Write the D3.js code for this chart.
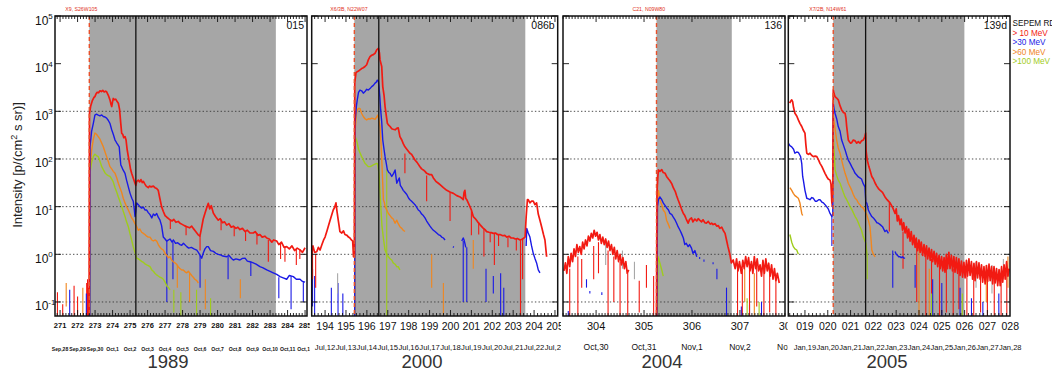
<!DOCTYPE html>
<html>
<head>
<meta charset="utf-8">
<script src="https://cdn.jsdelivr.net/npm/d3@7"></script>
<style>
  body { margin: 0; background: #fff; }
  svg { display: block; }
</style>
</head>
<body>
<svg id="chart" width="1052" height="370"></svg>
<script>
// ---------------------------------------------------------------
// SEPEM reference dataset: integral proton intensities for four
// ground-level events. Values are [day of year, intensity].
// null intensity marks a gap in the record.
// ---------------------------------------------------------------

const channels = ["> 10 MeV", ">30 MeV", ">60 MeV", ">100 MeV"];

// ---- 1989 (event 015) ----
const span1989 = [270.71, 285.11];
const doy1989 = [271, 272, 273, 274, 275, 276, 277, 278, 279, 280, 281, 282, 283, 284, 285];
const dates1989 = ["Sep,28", "Sep,29", "Sep,30", "Oct,1", "Oct,2", "Oct,3", "Oct,4", "Oct,5", "Oct,6", "Oct,7", "Oct,8", "Oct,9", "Oct,10", "Oct,11", "Oct,12"];
const marks1989 = { onset: 272.67, peak: 275.33, end: 283.33 };

const red1989 = [
  [272.66, 0.06], [272.68, 900], [272.75, 1300], [272.85, 1700], [272.93, 1950], [272.99, 2040], [273.05, 2300],
  [273.12, 2500], [273.2, 2450], [273.28, 2700], [273.36, 2600], [273.44, 2750], [273.52, 2550], [273.6, 2650],
  [273.66, 2570], [273.75, 2200], [273.85, 1740], [273.9, 1450], [273.95, 1260], [274.0, 1600], [274.04, 1860],
  [274.1, 1750], [274.18, 1800], [274.26, 1600], [274.33, 1480], [274.4, 1100], [274.46, 600], [274.52, 347],
  [274.58, 330], [274.64, 280], [274.71, 296], [274.77, 250], [274.83, 160], [274.9, 112], [274.96, 85],
  [275.03, 60], [275.09, 50], [275.18, 40], [275.28, 31], [275.33, 28], [275.38, 34], [275.47, 36], [275.55, 33],
  [275.62, 37], [275.7, 32], [275.76, 34], [275.84, 30], [275.92, 27], [276.04, 25], [276.1, 27], [276.2, 26],
  [276.33, 27], [276.42, 25], [276.52, 24], [276.61, 22], [276.7, 15], [276.8, 10], [276.9, 7.9], [277.0, 6.5],
  [277.1, 6.0], [277.2, 5.6], [277.28, 5.3], [277.4, 5.0], [277.5, 5.4], [277.62, 4.7], [277.75, 4.9],
  [277.85, 4.5], [277.95, 4.3], [278.1, 4.0], [278.25, 3.8], [278.4, 3.6], [278.52, 3.9], [278.61, 3.5],
  [278.75, 3.0], [278.88, 2.6], [278.99, 2.4], [279.08, 3.5], [279.18, 5.5], [279.28, 7.3], [279.38, 9.5],
  [279.47, 11.7], [279.55, 9], [279.64, 10.5], [279.76, 7.3], [279.88, 6.2], [280.04, 5.2], [280.15, 5.6],
  [280.28, 4.6], [280.4, 4.8], [280.52, 4.1], [280.65, 4.4], [280.78, 3.7], [280.9, 3.9], [281.05, 3.5],
  [281.16, 3.7], [281.28, 3.3], [281.42, 3.5], [281.57, 3.0], [281.7, 3.2], [281.85, 2.8], [282.04, 2.8],
  [282.15, 3.0], [282.3, 2.5], [282.42, 2.6], [282.55, 2.3], [282.7, 2.4], [282.81, 2.2], [282.95, 2.1],
  [283.1, 1.8], [283.2, 2.0], [283.38, 1.9], [283.5, 1.6], [283.65, 1.8], [283.8, 1.4], [283.95, 1.45],
  [284.1, 1.3], [284.25, 1.5], [284.4, 1.2], [284.55, 1.35], [284.71, 1.24], [284.85, 1.1], [285.0, 1.37]
];
const blue1989 = [
  [272.7, 0.05], [272.71, 180], [272.8, 380], [272.9, 560], [272.99, 830], [273.08, 870], [273.18, 830],
  [273.28, 800], [273.38, 840], [273.47, 780], [273.57, 760], [273.66, 720], [273.75, 650], [273.85, 560],
  [273.95, 410], [274.04, 330], [274.14, 250], [274.2, 230], [274.24, 215], [274.3, 200], [274.38, 180],
  [274.42, 120], [274.47, 75], [274.52, 69], [274.6, 59], [274.71, 50], [274.8, 36], [274.9, 26], [275.0, 19],
  [275.1, 15], [275.18, 13], [275.24, 9], [275.28, 6.2], [275.33, 8], [275.38, 12], [275.47, 11], [275.56, 10],
  [275.66, 9.3], [275.76, 9.8], [275.85, 8.5], [275.95, 8.5], [276.04, 7.5], [276.14, 6.8], [276.24, 5.8],
  [276.33, 7.0], [276.42, 6.5], [276.52, 7.2], [276.61, 6.0], [276.71, 5.2], [276.8, 4.0], [276.9, 2.3],
  [277.0, 2.1], [277.09, 1.9], [277.2, 2.0], [277.28, 2.1], [277.4, 1.8], [277.47, 2.0], [277.6, 1.7],
  [277.72, 1.75], [277.85, 1.6], [277.95, 1.55], [278.05, 1.7], [278.24, 1.45], [278.35, 1.35], [278.5, 1.4],
  [278.65, 1.3], [278.81, 1.23], [278.9, 1.1], [279.0, 0.95], [279.09, 0.83], [279.2, 1.1], [279.28, 1.3],
  [279.38, 1.45], [279.47, 1.45], [279.6, 1.2], [279.76, 1.15], [279.9, 1.05], [280.04, 1.0], [280.14, 0.98],
  [280.3, 0.92], [280.52, 0.89], [280.65, 0.95], [280.8, 0.82], [280.9, 0.76], [281.05, 0.8], [281.28, 0.76],
  [281.42, 0.82], [281.57, 0.83], [281.7, 0.72], [281.85, 0.7], [282.04, 0.66], [282.2, 0.62], [282.42, 0.55],
  [282.6, 0.52], [282.81, 0.47], [283.0, 0.44], [283.18, 0.41], [283.38, 0.38], [283.57, 0.34], [283.75, 0.32],
  [283.95, 0.30], [284.1, 0.36], [284.33, 0.34], [284.5, 0.30], [284.71, 0.30], [284.85, 0.27], [285.0, 0.26]
];
const orange1989 = [
  [272.7, 0.05], [272.72, 69], [272.8, 150], [272.9, 260], [272.99, 350], [273.08, 330], [273.18, 295],
  [273.28, 260], [273.38, 215], [273.47, 180], [273.57, 140], [273.66, 112], [273.75, 90], [273.85, 69],
  [273.95, 62], [274.04, 55], [274.14, 50], [274.24, 40], [274.33, 31], [274.42, 25], [274.52, 20], [274.61, 15],
  [274.71, 12], [274.8, 10], [274.9, 8.5], [275.0, 7.0], [275.09, 5.8], [275.18, 5.2], [275.28, 4.4],
  [275.38, 3.8], [275.47, 3.2], [275.56, 3.4], [275.66, 2.9], [275.76, 2.75], [275.85, 2.6], [275.95, 2.4],
  [276.04, 2.3], [276.14, 2.3], [276.24, 2.0], [276.33, 1.9], [276.42, 2.0], [276.52, 1.9], [276.61, 1.6],
  [276.71, 1.4], [276.8, 1.3], [276.9, 1.23], [277.0, 1.05], [277.09, 0.95], [277.2, 0.85], [277.28, 0.89],
  [277.38, 0.75], [277.47, 0.70], [277.57, 0.66], [277.66, 0.62], [277.75, 0.55], [277.85, 0.50],
  [277.95, 0.47], [278.04, 0.47], [278.14, 0.43], [278.24, 0.41], [278.33, 0.44], [278.42, 0.40],
  [278.52, 0.36], [278.61, 0.33], [278.7, 0.30], [278.81, 0.28], [278.9, 0.25]
];
const green1989 = [
  [272.7, 0.05], [272.71, 51], [272.8, 85], [272.9, 112], [272.99, 126], [273.08, 118], [273.18, 112],
  [273.28, 90], [273.38, 69], [273.47, 60], [273.57, 51], [273.66, 47], [273.75, 45], [273.85, 43],
  [273.95, 38], [274.04, 33], [274.14, 25], [274.24, 20], [274.33, 16], [274.42, 13], [274.52, 10], [274.61, 8],
  [274.71, 6.2], [274.8, 4.8], [274.9, 3.8], [274.99, 2.75], [275.09, 2.0], [275.18, 1.45], [275.28, 1.1],
  [275.38, 0.83], [275.47, 0.80], [275.56, 0.76], [275.66, 0.71], [275.76, 0.68], [275.85, 0.63],
  [275.95, 0.60], [276.04, 0.58], [276.14, 0.55], [276.24, 0.47], [276.33, 0.44], [276.42, 0.40],
  [276.52, 0.37], [276.61, 0.35], [276.71, 0.33], [276.8, 0.32], [276.9, 0.30], [277.0, 0.26], [277.09, 0.22],
  [277.2, 0.20], [277.28, 0.18]
];
// isolated readings: [day, high, low, channel]
const drops1989 = [
  [270.85, 0.16, 0.05, 0], [271.15, 0.09, 0.05, 0], [271.8, 0.22, 0.05, 0], [272.0, 0.13, 0.05, 0],
  [272.52, 0.25, 0.05, 0], [272.57, 0.3, 0.05, 0], [272.62, 0.2, 0.05, 0],
  [271.55, 0.18, 0.05, 1], [272.5, 0.15, 0.05, 1], [271.35, 0.25, 0.08, 2], [272.3, 0.2, 0.05, 2],
  [277.1, 1.9, 0.1, 1], [277.45, 1.8, 0.3, 1], [279.0, 0.95, 0.2, 1], [280.6, 0.9, 0.3, 1], [281.9, 0.7, 0.35, 1],
  [283.5, 0.33, 0.12, 1], [284.2, 0.35, 0.07, 1], [284.9, 0.27, 0.1, 1],
  [277.7, 0.6, 0.2, 2], [278.4, 0.4, 0.1, 2], [279.3, 0.3, 0.07, 2], [281.3, 0.3, 0.12, 2],
  [277.5, 0.18, 0.06, 3], [277.9, 0.16, 0.05, 3], [278.8, 0.18, 0.05, 3], [279.6, 0.12, 0.05, 3],
  [282.9, 2.0, 0.7, 0], [283.6, 1.7, 0.8, 0], [284.5, 1.3, 0.6, 0], [279.0, 2.4, 1.2, 0],
  [277.3, 5.2, 3.4, 0], [278.2, 3.9, 2.5, 0], [280.2, 5.4, 3.2, 0], [280.95, 3.8, 2.4, 0], [281.6, 3.0, 1.9, 0],
  [282.25, 2.8, 1.6, 0], [283.85, 1.4, 0.7, 0], [284.7, 1.3, 0.8, 0]
];

// ---- 2000 (event 086b) ----
const span2000 = [193.36, 205.13];
const doy2000 = [194, 195, 196, 197, 198, 199, 200, 201, 202, 203, 204, 205];
const dates2000 = ["Jul,12", "Jul,13", "Jul,14", "Jul,15", "Jul,16", "Jul,17", "Jul,18", "Jul,19", "Jul,20", "Jul,21", "Jul,22", "Jul,23"];
const marks2000 = { onset: 195.40, peak: 196.57, end: 203.58 };

const red2000 = [
  [193.36, 1.0], [193.42, 1.5], [193.5, 1.1], [193.6, 1.13], [193.68, 1.4], [193.76, 1.23], [193.85, 1.6],
  [193.93, 2.0], [194.0, 2.3], [194.1, 3.2], [194.18, 4.2], [194.24, 5.2], [194.32, 6.8], [194.39, 8.5],
  [194.45, 9.5], [194.52, 12], [194.57, 8], [194.63, 5.2], [194.67, 4.0], [194.71, 3.0], [194.8, 2.8],
  [194.88, 3.1], [194.95, 2.6], [195.05, 2.5], [195.12, 2.3], [195.19, 2.2], [195.26, 2.0], [195.32, 1.9],
  [195.36, 0.89], [195.4, 0.9], [195.42, 4000], [195.48, 6500], [195.54, 6800], [195.6, 7000], [195.67, 7400],
  [195.75, 7900], [195.83, 8200], [195.91, 8700], [195.99, 9500], [196.07, 12000], [196.15, 14000],
  [196.23, 15000], [196.31, 15500], [196.39, 16500], [196.47, 19500], [196.55, 21000], [196.6, 17000],
  [196.63, 12000], [196.71, 8700], [196.76, 3300], [196.82, 2200], [196.87, 1260], [196.93, 800],
  [196.98, 560], [197.03, 520], [197.11, 480], [197.19, 430], [197.26, 420], [197.35, 410], [197.43, 440],
  [197.5, 450], [197.58, 295], [197.67, 250], [197.74, 210], [197.82, 180], [197.91, 160], [198.06, 132],
  [198.14, 125], [198.3, 95], [198.4, 85], [198.54, 69], [198.62, 62], [198.7, 59], [198.78, 55], [198.86, 50],
  [199.0, 47], [199.1, 47], [199.18, 40], [199.3, 34], [199.42, 31], [199.5, 29], [199.66, 25], [199.82, 22],
  [200.0, 20], [200.14, 19], [200.3, 17], [200.46, 16], [200.54, 15], [200.61, 14], [200.65, 20], [200.69, 22],
  [200.73, 15], [200.78, 14], [200.85, 12], [200.93, 10], [201.0, 8.5], [201.09, 6.2], [201.2, 5.5],
  [201.3, 4.8], [201.41, 4.2], [201.55, 3.6], [201.65, 3.3], [201.73, 3.0], [201.85, 2.9], [201.95, 2.85],
  [202.05, 2.75], [202.15, 2.8], [202.25, 2.6], [202.37, 2.6], [202.5, 2.45], [202.6, 2.5], [202.69, 2.3],
  [202.8, 2.4], [202.9, 2.2], [203.01, 2.2], [203.1, 2.1], [203.2, 2.15], [203.33, 2.0], [203.45, 2.1],
  [203.57, 2.3], [203.62, 6], [203.68, 14], [203.72, 14], [203.8, 12], [203.88, 13], [203.96, 13],
  [204.04, 11], [204.12, 12], [204.2, 7], [204.28, 5.2], [204.36, 3.8], [204.45, 2.6], [204.52, 2.0],
  [204.6, 0.89]
];
const blue2000 = [
  [195.42, 0.05], [195.43, 560], [195.5, 1300], [195.54, 1740], [195.6, 2500], [195.67, 2800], [195.75, 2700],
  [195.83, 2400], [195.91, 2600], [195.99, 2900], [196.07, 2800], [196.15, 3000], [196.23, 3300],
  [196.31, 3500], [196.39, 3900], [196.45, 4100], [196.5, 4500], [196.55, 4300], [196.58, 3300],
  [196.62, 2000], [196.66, 1070], [196.71, 600], [196.76, 250], [196.82, 160], [196.87, 112], [196.93, 80],
  [196.98, 59], [197.05, 52], [197.11, 50], [197.19, 43], [197.26, 48], [197.35, 59], [197.43, 31],
  [197.5, 36], [197.55, 40], [197.6, 28], [197.67, 25], [197.74, 22], [197.82, 20], [197.91, 18], [198.0, 15],
  [198.06, 14], [198.14, 13], [198.22, 12], [198.3, 11], [198.38, 9.8], [198.46, 8.5], [198.54, 8],
  [198.62, 7], [198.7, 6.5], [198.78, 5.8], [198.86, 5.0], [198.94, 4.4], [199.02, 3.9], [199.1, 3.5],
  [199.18, 3.2], [199.26, 3.0], [199.34, 2.8], [199.42, 2.6], [199.5, 2.5], [199.58, 2.3], [199.66, 2.2],
  [199.74, 2.0], [199.8, null], [200.12, 1.45], [200.16, 1.4], [200.2, null],
  [200.54, 1.9], [200.61, 2.2], [200.65, 2.0], [200.69, 1.7], [200.73, 1.4], [200.76, null],
  [203.62, 1.5], [203.65, 3.5], [203.72, 2.8], [203.8, 2.3], [203.88, 1.5], [203.96, 1.05], [204.05, 0.8],
  [204.12, 0.66], [204.2, 0.47], [204.28, 0.41]
];
const orange2000 = [
  [195.42, 0.05], [195.43, 350], [195.5, 900], [195.54, 1070], [195.6, 1150], [195.67, 1150], [195.75, 900],
  [195.83, 780], [195.91, 700], [195.99, 660], [196.07, 700], [196.15, 690], [196.23, 720], [196.31, 700],
  [196.39, 680], [196.47, 760], [196.52, 830], [196.58, 650], [196.63, 480], [196.68, 200], [196.72, 80],
  [196.76, 30], [196.79, 14], [196.84, 12], [196.87, 10], [196.95, 8.5], [197.03, 7.2], [197.11, 6.5],
  [197.19, 5.8], [197.26, 5.5], [197.35, 4.5], [197.43, 5.2], [197.5, 4.4], [197.58, 3.8], [197.67, 3.5],
  [197.74, 3.2], [197.82, 3.0]
];
const green2000 = [
  [195.42, 0.05], [195.43, 300], [195.5, 250], [195.54, 215], [195.6, 160], [195.67, 135], [195.75, 112],
  [195.83, 95], [195.91, 81], [195.99, 75], [196.07, 69], [196.15, 69], [196.23, 72], [196.31, 75],
  [196.39, 78], [196.47, 81], [196.52, 78], [196.58, 50], [196.63, 20], [196.68, 8], [196.72, 4], [196.8, 2.0],
  [196.87, 1.23], [196.95, 1.0], [197.03, 0.89], [197.11, 0.8], [197.19, 0.76], [197.26, 0.66],
  [197.35, 0.62], [197.43, 0.55], [197.5, 0.55], [197.58, 0.47]
];
const drops2000 = [
  [193.4, 0.5, 0.08, 1], [193.5, 0.35, 0.05, 1], [194.3, 0.2, 0.05, 1], [194.62, 0.25, 0.05, 1],
  [194.85, 0.15, 0.05, 1], [193.4, 1.2, 0.3, 0], [193.55, 1.0, 0.2, 0], [194.6, 0.4, 0.15, 4],
  [200.61, 1.9, 0.1, 1], [200.78, 1.4, 0.1, 1], [201.7, 0.5, 0.1, 1], [202.05, 0.35, 0.15, 1],
  [202.4, 0.4, 0.05, 1], [202.55, 0.2, 0.05, 1],
  [197.82, 130, 50, 0], [198.86, 45, 13, 0], [199.98, 20, 5, 0], [201.0, 8, 2.5, 0], [201.6, 3.5, 0.9, 0],
  [202.1, 2.7, 0.6, 0], [203.35, 2.0, 0.05, 0], [203.45, 2.2, 0.3, 0],
  [201.35, 4.6, 2.6, 0], [201.9, 2.9, 1.8, 0], [202.3, 2.6, 1.5, 0], [202.75, 2.4, 1.4, 0], [203.15, 2.1, 1.2, 0],
  [199.1, 1.0, 0.2, 2], [199.66, 0.25, 0.05, 2], [201.09, 2.0, 0.5, 2],
  [196.95, 60, 0.05, 3]
];

// ---- 2004 (event 136) ----
const span2004 = [303.31, 307.94];
const doy2004 = [304, 305, 306, 307, 308];
const dates2004 = ["Oct,30", "Oct,31", "Nov,1", "Nov,2", "Nov,3"];
const marks2004 = { onset: 305.26, peak: null, end: 306.83 };

const red2004 = [
  [303.33, 0.45], [303.36, 0.66], [303.39, 0.4], [303.42, 0.9], [303.45, 0.55], [303.48, 1.05], [303.51, 0.7],
  [303.54, 1.3], [303.57, 0.9], [303.6, 1.6], [303.63, 1.1], [303.66, 1.45], [303.69, 1.0], [303.72, 1.8],
  [303.75, 1.3], [303.78, 2.0], [303.81, 1.5], [303.84, 2.4], [303.87, 1.9], [303.9, 2.75], [303.93, 2.2],
  [303.96, 3.2], [303.99, 2.4], [304.02, 2.9], [304.05, 2.0], [304.08, 2.6], [304.11, 1.7], [304.14, 2.3],
  [304.17, 1.6], [304.2, 2.1], [304.23, 1.4], [304.26, 1.9], [304.29, 1.2], [304.32, 1.6], [304.35, 1.0],
  [304.38, 1.4], [304.41, 0.8], [304.44, 1.2], [304.47, 0.7], [304.5, 1.0], [304.53, 0.6], [304.56, 0.85],
  [304.59, 0.5], [304.62, 0.7], [304.65, 0.4], [304.68, 0.47], [304.7, null],
  [305.26, 0.05], [305.27, 20], [305.29, 45], [305.3, 59], [305.33, 55], [305.37, 60], [305.4, 52],
  [305.44, 50], [305.47, 43], [305.51, 38], [305.54, 35], [305.58, 30], [305.61, 25], [305.65, 21],
  [305.68, 17], [305.71, 14], [305.75, 11], [305.78, 9], [305.82, 7.2], [305.85, 6.5], [305.88, 5.5],
  [305.92, 4.5], [305.95, 5.4], [305.99, 5.8], [306.02, 4.8], [306.06, 5.5], [306.1, 5.0], [306.13, 5.6],
  [306.16, 5.2], [306.2, 4.8], [306.23, 5.3], [306.27, 4.6], [306.3, 4.5], [306.34, 4.9], [306.38, 4.3],
  [306.41, 4.5], [306.44, 4.2], [306.48, 4.4], [306.52, 3.9], [306.55, 4.0], [306.58, 3.5], [306.62, 3.7],
  [306.65, 3.2], [306.69, 2.75], [306.72, 2.0], [306.75, 1.45], [306.79, 1.0], [306.82, 0.66], [306.86, 0.76],
  [306.9, 0.5], [306.93, 0.8], [306.96, 0.45], [306.99, 0.7], [307.03, 0.4], [307.06, 0.75], [307.09, 0.5],
  [307.12, 0.9], [307.15, 0.55], [307.18, 0.85], [307.21, 0.45], [307.24, 0.7], [307.27, 0.4], [307.3, 0.9],
  [307.33, 0.5], [307.36, 0.8], [307.39, 0.45], [307.42, 0.6], [307.45, 0.35], [307.48, 0.75], [307.51, 0.4],
  [307.54, 0.8], [307.57, 0.45], [307.6, 0.65], [307.63, 0.35], [307.66, 0.6], [307.69, 0.3], [307.72, 0.5],
  [307.75, 0.28], [307.78, 0.4], [307.82, 0.25]
];
const blue2004 = [
  [305.27, 0.05], [305.28, 10], [305.3, 14], [305.33, 16], [305.37, 14], [305.4, 12], [305.44, 10.5],
  [305.47, 9.5], [305.51, 8.5], [305.54, 7.2], [305.58, 6.8], [305.61, 6.0], [305.65, 5.2], [305.68, 4.5],
  [305.71, 3.8], [305.75, 3.2], [305.78, 2.75], [305.82, 2.2], [305.85, 1.6], [305.88, 1.7], [305.92, 1.45],
  [305.95, 1.6], [305.99, 1.35], [306.02, 1.05], [306.06, 1.2], [306.1, 0.89]
];
const orange2004 = [
  [305.27, 0.05], [305.28, 15], [305.3, 22], [305.33, 14], [305.37, 11], [305.4, 8.5], [305.44, 7.5],
  [305.47, 5.2], [305.51, 4.2], [305.54, 3.5]
];
const green2004 = [
  [305.28, 0.05], [305.29, 0.9], [305.3, 0.83], [305.33, 0.66], [305.37, 0.47], [305.4, 0.35]
];
const drops2004 = [
  [303.45, 0.5, 0.05, 0], [303.62, 0.9, 0.05, 0], [303.7, 0.8, 0.2, 0], [303.95, 1.5, 0.3, 0],
  [304.05, 1.8, 0.4, 0], [304.25, 1.2, 0.05, 0], [304.37, 0.9, 0.1, 0], [304.5, 0.7, 0.05, 0],
  [304.66, 0.4, 0.05, 0], [304.9, 0.28, 0.06, 0], [305.05, 0.6, 0.2, 0], [305.2, 0.35, 0.05, 0],
  [304.2, 1.8, 0.6, 4], [304.55, 1.2, 0.5, 4], [304.8, 0.7, 0.3, 4],
  [303.8, 0.3, 0.2, 1], [303.87, 0.17, 0.15, 1], [304.12, 0.16, 0.14, 1], [303.42, 0.065, 0.05, 1],
  [306.16, 0.88, 0.8, 1], [306.25, 0.78, 0.7, 1], [306.44, 0.68, 0.62, 1], [306.52, 0.5, 0.3, 1],
  [306.72, 0.2, 0.05, 1], [307.03, 0.08, 0.05, 1], [307.2, 0.09, 0.05, 1], [307.45, 0.1, 0.05, 1],
  [306.95, 0.6, 0.05, 0], [307.05, 0.5, 0.05, 0], [307.2, 0.6, 0.05, 0], [307.35, 0.7, 0.08, 0],
  [307.5, 0.5, 0.05, 0], [307.62, 0.5, 0.06, 0], [307.75, 0.35, 0.05, 0],
  [307.1, 0.5, 0.1, 2], [307.3, 0.4, 0.05, 2], [307.15, 0.12, 0.05, 3], [307.4, 0.1, 0.05, 3]
];

// ---- 2005 (event 139d) ----
const span2005 = [18.27, 27.99];
const doy2005 = [19, 20, 21, 22, 23, 24, 25, 26, 27, 28];
const dates2005 = ["Jan,19", "Jan,20", "Jan,21", "Jan,22", "Jan,23", "Jan,24", "Jan,25", "Jan,26", "Jan,27", "Jan,28"];
const marks2005 = { onset: 20.24, peak: 21.66, end: 25.99 };

const red2005 = [
  [18.33, 1480], [18.38, 1650], [18.42, 1740], [18.46, 1600], [18.5, 1200], [18.56, 910], [18.64, 800],
  [18.71, 660], [18.78, 560], [18.86, 480], [18.93, 400], [19.0, 350], [19.04, 200], [19.08, 132],
  [19.15, 125], [19.22, 132], [19.3, 118], [19.37, 112], [19.45, 115], [19.52, 112], [19.6, 95], [19.66, 81],
  [19.74, 70], [19.81, 59], [19.88, 50], [19.95, 43], [20.02, 38], [20.1, 36], [20.14, 30], [20.18, 12],
  [20.2, 20], [20.22, 26], [20.24, 2800], [20.28, 2300], [20.32, 2040], [20.39, 1900], [20.46, 1740],
  [20.54, 1300], [20.61, 1070], [20.68, 950], [20.76, 910], [20.8, 700], [20.83, 480], [20.9, 250],
  [20.95, 230], [21.0, 215], [21.05, 220], [21.12, 250], [21.2, 240], [21.27, 215], [21.34, 230],
  [21.41, 215], [21.48, 240], [21.56, 250], [21.63, 300], [21.66, 350], [21.68, 150], [21.73, 95],
  [21.8, 70], [21.85, 59], [21.93, 43], [22.0, 38], [22.08, 31], [22.15, 27], [22.22, 24], [22.3, 22],
  [22.4, 20], [22.51, 16], [22.6, 14], [22.73, 12], [22.85, 9.5], [22.95, 7.2], [23.0, 9.0], [23.05, 5.0],
  [23.1, 6.5], [23.17, 4.2], [23.22, 5.5], [23.28, 3.2], [23.33, 4.6], [23.39, 2.8], [23.45, 3.8],
  [23.5, 2.2], [23.55, 3.4], [23.61, 1.9], [23.66, 3.0], [23.72, 1.6], [23.78, 2.5], [23.83, 1.4],
  [23.88, 2.2], [23.94, 1.2], [24.0, 2.0], [24.05, 1.1], [24.1, 1.8], [24.16, 0.95], [24.22, 1.6],
  [24.27, 0.9], [24.33, 1.5], [24.38, 0.8], [24.44, 1.35], [24.49, 0.75], [24.55, 1.25], [24.6, 0.7],
  [24.66, 1.15], [24.71, 0.62], [24.77, 1.05], [24.82, 0.55], [24.88, 0.95], [24.93, 0.5], [24.99, 0.9],
  [25.04, 0.45], [25.1, 0.85], [25.14, 0.42], [25.2, 1.0], [25.25, 0.5], [25.31, 1.1], [25.36, 0.5],
  [25.42, 0.95], [25.47, 0.45], [25.53, 0.9], [25.58, 0.42], [25.64, 0.85], [25.69, 0.4], [25.75, 0.8],
  [25.8, 0.36], [25.86, 0.72], [25.91, 0.33], [25.97, 0.68], [26.02, 0.32], [26.08, 0.75], [26.13, 0.35],
  [26.19, 0.8], [26.24, 0.36], [26.3, 0.7], [26.35, 0.3], [26.41, 0.65], [26.46, 0.28], [26.52, 0.7],
  [26.57, 0.32], [26.63, 0.66], [26.68, 0.3], [26.74, 0.6], [26.79, 0.26], [26.85, 0.55], [26.9, 0.24],
  [26.96, 0.58], [27.01, 0.27], [27.07, 0.62], [27.12, 0.28], [27.18, 0.55], [27.23, 0.24], [27.29, 0.55],
  [27.34, 0.25], [27.4, 0.5], [27.45, 0.22], [27.51, 0.48], [27.56, 0.22], [27.62, 0.55], [27.67, 0.26],
  [27.73, 0.6], [27.78, 0.3], [27.84, 0.7], [27.9, 0.35], [27.95, 0.5]
];
const blue2005 = [
  [18.27, 215], [18.34, 190], [18.42, 180], [18.5, 160], [18.56, 132], [18.64, 140], [18.71, 138],
  [18.78, 120], [18.81, 112], [18.86, 80], [18.9, 43], [18.93, 36], [19.0, 22], [19.08, 15], [19.15, 14.5],
  [19.22, 14], [19.3, 15.5], [19.37, 15], [19.45, 13], [19.52, 13], [19.6, 14], [19.66, 14], [19.74, 12.5],
  [19.81, 12], [19.88, 11], [19.95, 10], [20.02, 9], [20.1, 7.2], [20.18, 6.2], [20.22, 7], [20.24, 1480],
  [20.28, 1100], [20.32, 910], [20.39, 700], [20.46, 480], [20.54, 380], [20.61, 250], [20.68, 200],
  [20.76, 155], [20.83, 120], [20.9, 95], [20.98, 81], [21.05, 69], [21.12, 60], [21.2, 50], [21.27, 46],
  [21.34, 42], [21.41, 40], [21.48, 38], [21.56, 30], [21.63, 26], [21.67, 12], [21.71, 12], [21.78, 8.5],
  [21.85, 7.2], [21.93, 6.2], [22.0, 5.8], [22.08, 5.2], [22.15, 4.6], [22.22, 4.5], [22.3, 4.2],
  [22.4, 3.8], [22.51, 3.0], [22.58, 3.2], [22.66, 2.75], [22.7, null], [22.95, 1.15], [23.0, 1.0],
  [23.06, 0.95], [23.11, 0.89], [23.17, 0.89], [23.22, 0.85], [23.28, 0.89], [23.34, 0.83], [23.39, 0.83]
];
const orange2005 = [
  [18.34, 25], [18.42, 22], [18.49, 19], [18.56, 17], [18.64, 16], [18.71, 15], [18.78, 12], [18.86, 7.2],
  [18.9, 6.5], [18.93, null],
  [20.24, 780], [20.3, 500], [20.39, 250], [20.46, 170], [20.54, 132], [20.61, 95], [20.68, 69], [20.76, 50],
  [20.83, 40], [20.9, 31], [20.98, 26], [21.05, 22], [21.12, 18], [21.2, 15], [21.27, 14], [21.34, 12],
  [21.41, 11], [21.48, 10], [21.56, 9.3], [21.63, 8], [21.71, 6.8], [21.78, 5.2], [21.85, 3.8], [21.9, 2.0],
  [21.93, 1.23], [22.0, 1.0], [22.08, 0.89]
];
const green2005 = [
  [18.34, 2.6], [18.42, 1.8], [18.49, 1.45], [18.56, 1.3], [18.64, 1.23], [18.71, 1.0], [18.75, null],
  [20.24, 350], [20.28, 150], [20.32, 59], [20.39, 45], [20.46, 36], [20.54, 31], [20.61, 25], [20.68, 20],
  [20.76, 16], [20.83, 14], [20.9, 12], [20.98, 10], [21.05, 8.8], [21.12, 7.5], [21.2, 6.2], [21.27, 5.5],
  [21.34, 4.6], [21.41, 3.8], [21.48, 3.2], [21.56, 2.3], [21.63, 1.9], [21.67, 1.7], [21.73, 0.89]
];
const drops2005 = [
  [23.9, 1.5, 0.1, 0], [24.3, 1.0, 0.05, 0], [24.55, 0.8, 0.05, 0], [24.9, 0.7, 0.05, 0], [25.2, 0.6, 0.06, 0],
  [25.5, 0.5, 0.05, 0], [25.75, 0.6, 0.07, 0], [26.1, 0.5, 0.05, 0], [26.4, 0.5, 0.05, 0], [26.7, 0.45, 0.06, 0],
  [27.0, 0.4, 0.05, 0], [27.3, 0.45, 0.05, 0], [27.6, 0.4, 0.05, 0], [27.85, 0.5, 0.05, 0], [22.7, 12, 3, 0],
  [23.3, 3, 0.5, 0], [20.18, 30, 10, 0],
  [22.85, 1.2, 0.2, 1], [23.83, 0.6, 0.2, 1], [24.6, 0.3, 0.05, 1], [25.0, 0.25, 0.05, 1], [25.8, 0.2, 0.05, 1],
  [20.18, 6.5, 1.5, 1], [26.3, 0.12, 0.05, 1], [26.8, 0.1, 0.05, 1], [27.5, 0.15, 0.05, 1],
  [21.66, 525, 8, 2], [24.0, 1.8, 0.05, 2], [24.45, 0.5, 0.05, 2], [26.95, 0.6, 0.1, 2], [27.9, 0.9, 0.2, 2],
  [21.73, 0.9, 0.3, 3], [24.55, 0.15, 0.05, 3], [25.9, 0.15, 0.05, 3],
  [26.5, 0.7, 0.2, 4], [27.2, 0.6, 0.15, 4], [27.7, 0.8, 0.3, 4]
];

// ---------------------------------------------------------------
// Layout and styling
// ---------------------------------------------------------------
const W = 1052, H = 370;
const TOP = 16, BOTTOM = 316;
const colors = ["#f21a12", "#1a1ae6", "#f0861e", "#9fcc1c", "#a8a8a8"];
const shadeColor = "#a6a6a6";
const font = "'Liberation Sans', Arial, Helvetica, sans-serif";

const panels = [
  { year: "1989", tag: "015", note: "X9, S26W105", span: span1989, doy: doy1989, dates: dates1989, marks: marks1989,
    series: [red1989, blue1989, orange1989, green1989], drops: drops1989,
    left: 55, right: 307, bg: 0, tickFont: 7.5, tickWeight: "bold", dateFont: 5.1, yearX: 168, fmt: d => String(d), minor: 6 },
  { year: "2000", tag: "086b", note: "X6/3B, N22W07", span: span2000, doy: doy2000, dates: dates2000, marks: marks2000,
    series: [red2000, blue2000, orange2000, green2000], drops: drops2000,
    left: 311.7, right: 557.7, bg: 309.7, tickFont: 10.5, tickWeight: "normal", dateFont: 7.7, yearX: 422, fmt: d => String(d), minor: 6 },
  { year: "2004", tag: "136", note: "C21, N09W80", span: span2004, doy: doy2004, dates: dates2004, marks: marks2004,
    series: [red2004, blue2004, orange2004, green2004], drops: drops2004,
    left: 563, right: 785, bg: 561, tickFont: 11, tickWeight: "normal", dateFont: 8.5, yearX: 662, fmt: d => String(d), minor: 16 },
  { year: "2005", tag: "139d", note: "X7/2B, N14W61", span: span2005, doy: doy2005, dates: dates2005, marks: marks2005,
    series: [red2005, blue2005, orange2005, green2005], drops: drops2005,
    left: 788.3, right: 1010, bg: 787.6, tickFont: 10.5, tickWeight: "normal", dateFont: 7.5, yearX: 887, fmt: d => d3.format("03d")(d), minor: 6 }
];

const svg = d3.select("#chart");
svg.append("rect").attr("width", W).attr("height", H).attr("fill", "#fff");

const y = d3.scaleLog().domain([0.0508, 1e5]).range([BOTTOM, TOP]).clamp(true);
const decades = [1e-1, 1e0, 1e1, 1e2, 1e3, 1e4, 1e5];
const gridDecades = [1e-1, 1e0, 1e1, 1e2, 1e3];

panels.forEach((p, pi) => {
  const g = svg.append("g");
  const x = d3.scaleLinear().domain(p.span).range([p.left, p.right]);

  // white backing so each panel's frame sits on top of the neighbour's overflow
  g.append("rect").attr("x", p.bg).attr("y", 0).attr("width", W - p.bg).attr("height", H).attr("fill", "#fff");

  // shaded event interval
  g.append("rect")
    .attr("x", x(p.marks.onset)).attr("y", TOP)
    .attr("width", x(p.marks.end) - x(p.marks.onset)).attr("height", BOTTOM - TOP)
    .attr("fill", shadeColor);

  // dotted decade grid
  g.selectAll("line.grid").data(gridDecades).join("line")
    .attr("x1", p.left).attr("x2", p.right)
    .attr("y1", d => y(d)).attr("y2", d => y(d))
    .attr("stroke", "#3a3a3a").attr("stroke-width", 0.9).attr("stroke-dasharray", "1.4,2.2");

  const clipId = "clip" + pi;
  g.append("clipPath").attr("id", clipId).append("rect")
    .attr("x", p.left).attr("y", TOP).attr("width", p.right - p.left).attr("height", BOTTOM - TOP);
  const plot = g.append("g").attr("clip-path", `url(#${clipId})`);

  // isolated readings / dropouts
  plot.selectAll("line.drop").data(p.drops).join("line")
    .attr("x1", d => x(d[0])).attr("x2", d => x(d[0]))
    .attr("y1", d => y(d[1])).attr("y2", d => y(d[2]))
    .attr("stroke", d => colors[d[3]]).attr("stroke-width", 1.1);

  // channel traces, highest energy first so > 10 MeV is drawn on top
  const line = d3.line()
    .defined(d => d[1] != null)
    .x(d => x(d[0])).y(d => y(d[1]));
  [3, 2, 1, 0].forEach(ci => {
    plot.append("path").datum(p.series[ci])
      .attr("d", line)
      .attr("fill", "none")
      .attr("stroke", colors[ci])
      .attr("stroke-width", ci === 0 ? 1.7 : 1.4)
      .attr("stroke-linejoin", "round");
  });

  // onset (dashed) and reference (solid) markers
  g.append("line")
    .attr("x1", x(p.marks.onset)).attr("x2", x(p.marks.onset)).attr("y1", TOP).attr("y2", BOTTOM)
    .attr("stroke", "#e8502a").attr("stroke-width", 1.4).attr("stroke-dasharray", "4,3");
  if (p.marks.peak != null) {
    g.append("line")
      .attr("x1", x(p.marks.peak)).attr("x2", x(p.marks.peak)).attr("y1", TOP).attr("y2", BOTTOM)
      .attr("stroke", "#111").attr("stroke-width", 1.3);
  }

  // frame
  g.append("rect")
    .attr("x", p.left).attr("y", TOP).attr("width", p.right - p.left).attr("height", BOTTOM - TOP)
    .attr("fill", "none").attr("stroke", "#111").attr("stroke-width", 1.5);

  // time ticks, top and bottom
  const [d0, d1] = p.span;
  const minorTicks = d3.range(Math.ceil(d0 * p.minor), Math.floor(d1 * p.minor) + 1).map(k => k / p.minor);
  const ticks = g.append("g").attr("stroke", "#111").attr("stroke-width", 0.9);
  minorTicks.forEach(t => {
    const major = Math.abs(t - Math.round(t)) < 1e-6;
    const len = major ? 6 : 3;
    ticks.append("line").attr("x1", x(t)).attr("x2", x(t)).attr("y1", BOTTOM).attr("y2", BOTTOM - len);
    ticks.append("line").attr("x1", x(t)).attr("x2", x(t)).attr("y1", TOP).attr("y2", TOP + len);
  });
  // intensity ticks, left and right
  decades.forEach(v => {
    ticks.append("line").attr("x1", p.left).attr("x2", p.left + 6).attr("y1", y(v)).attr("y2", y(v));
    ticks.append("line").attr("x1", p.right - 6).attr("x2", p.right).attr("y1", y(v)).attr("y2", y(v));
  });

  // day-of-year labels
  g.selectAll("text.doy").data(p.doy).join("text")
    .attr("x", d => x(d)).attr("y", pi === 0 ? 328 : 330)
    .attr("text-anchor", "middle")
    .attr("font-family", font).attr("font-size", p.tickFont).attr("font-weight", p.tickWeight)
    .attr("fill", "#111").text(p.fmt);

  // calendar labels
  g.selectAll("text.date").data(p.dates).join("text")
    .attr("x", (d, i) => x(p.doy[i])).attr("y", pi === 0 ? 350.5 : 349.5)
    .attr("text-anchor", "middle")
    .attr("font-family", font).attr("font-size", p.dateFont).attr("font-weight", pi === 0 ? "bold" : "normal")
    .attr("fill", "#111").text(d => d);

  // year
  g.append("text").attr("x", p.yearX).attr("y", 367.5).attr("text-anchor", "middle")
    .attr("font-family", font).attr("font-size", 18.5).attr("fill", "#333").text(p.year);

  // event tag in the corner
  g.append("text").attr("x", p.right - 3).attr("y", 28.5).attr("text-anchor", "end")
    .attr("font-family", font).attr("font-size", 10.5).attr("fill", "#111").text(p.tag);

  // flare annotation
  g.append("text").attr("x", x(p.marks.onset) - 24).attr("y", 10.5)
    .attr("font-family", font).attr("font-size", 5.2).attr("fill", "#e03020").text(p.note);
});

// intensity labels on the first panel
const yl = svg.append("g").attr("font-family", font).attr("fill", "#111");
decades.forEach(v => {
  const e = Math.round(Math.log10(v));
  const t = yl.append("text").attr("x", 35).attr("y", y(v) + 8.5).attr("font-size", 12);
  t.append("tspan").text("10");
  t.append("tspan").attr("dy", -5.5).attr("font-size", 8).text(e);
});

// axis title
const ttl = svg.append("text")
  .attr("transform", "translate(22,165) rotate(-90)")
  .attr("text-anchor", "middle")
  .attr("font-family", font).attr("font-size", 13).attr("fill", "#222");
ttl.append("tspan").text("Intensity [p/(cm");
ttl.append("tspan").attr("dy", -5).attr("font-size", 9).text("2");
ttl.append("tspan").attr("dy", 5).text(" s sr)]");

// legend
const lg = svg.append("g").attr("font-family", font).attr("font-size", 8.2);
lg.append("text").attr("x", 1012.5).attr("y", 25.5).attr("fill", "#111").text("SEPEM RDS");
channels.forEach((c, i) => {
  lg.append("text").attr("x", 1012.5).attr("y", 35.5 + i * 9.6).attr("fill", colors[i]).text(c);
});
</script>
</body>
</html>
